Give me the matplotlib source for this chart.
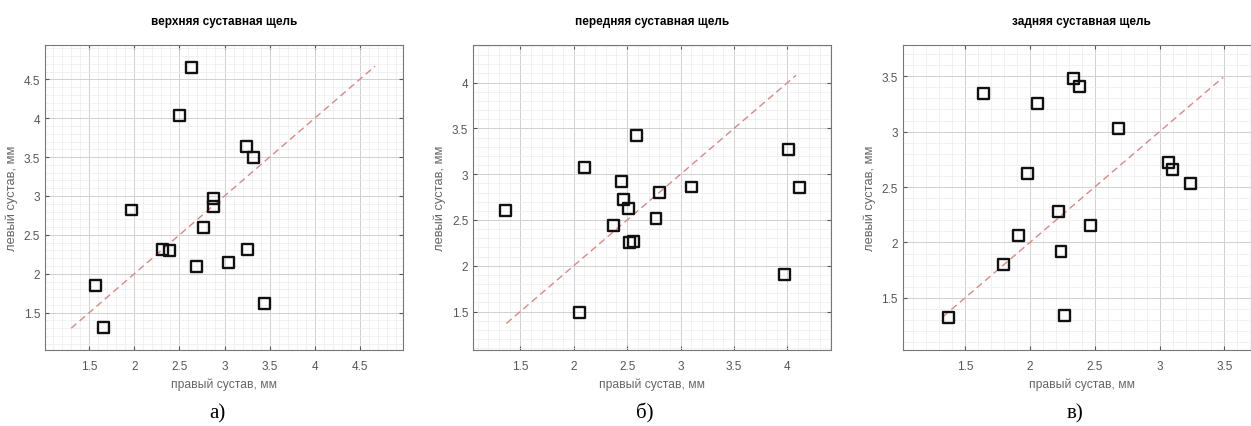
import matplotlib
matplotlib.use('Agg')
import matplotlib.pyplot as plt
import numpy as np
from matplotlib.ticker import MultipleLocator

plt.rcParams['font.family'] = ['Liberation Sans', 'DejaVu Sans']

# верхняя суставная щель
a_right = [2.63, 2.50, 3.24, 3.32, 2.88, 2.88, 1.97, 2.77, 2.31, 2.39, 3.26, 2.69, 3.04, 1.57, 3.44, 1.66]
a_left = [4.65, 4.04, 3.64, 3.49, 2.97, 2.86, 2.82, 2.59, 2.31, 2.30, 2.31, 2.09, 2.15, 1.85, 1.62, 1.31]

# передняя суставная щель
b_right = [2.59, 2.10, 2.45, 2.47, 2.51, 2.80, 3.10, 4.01, 4.11, 1.36, 2.77, 2.37, 2.52, 2.56, 3.97, 2.05]
b_left = [3.42, 3.07, 2.92, 2.72, 2.63, 2.80, 2.86, 3.27, 2.85, 2.60, 2.52, 2.44, 2.25, 2.26, 1.90, 1.49]

# задняя суставная щель
c_right = [2.34, 2.38, 1.64, 2.06, 2.68, 3.07, 3.10, 3.24, 1.98, 2.22, 2.47, 1.91, 2.24, 1.80, 1.37, 2.27]
c_left = [3.48, 3.41, 3.34, 3.25, 3.03, 2.72, 2.66, 2.53, 2.62, 2.28, 2.15, 2.06, 1.92, 1.80, 1.32, 1.34]

titles = ['верхняя суставная щель', 'передняя суставная щель', 'задняя суставная щель']
captions = ['а)', 'б)', 'в)']
diag = [(1.30, 4.67), (1.37, 4.08), (1.33, 3.49)]
xlims = [(1.01, 4.98), (1.06, 4.41), (1.02, 3.78)]
ylims = [(1.02, 4.94), (1.08, 4.41), (1.03, 3.78)]
lefts = [0.036, 0.3783, 0.7216]

data = [(a_right, a_left), (b_right, b_left), (c_right, c_left)]

fig = plt.figure(figsize=(12.51, 4.27), dpi=100)
for i, (xr, yl) in enumerate(data):
    ax = fig.add_axes([lefts[i], 0.178, 0.2862, 0.714])
    ax.plot(diag[i], diag[i], linestyle='--', color='#e08585', linewidth=1.0, dashes=(5, 3), zorder=2)
    ax.scatter(xr, yl, marker='s', s=62, facecolors='none', edgecolors='#111111', linewidths=1.7, zorder=3)
    ax.set_xlim(*xlims[i])
    ax.set_ylim(*ylims[i])
    ax.xaxis.set_major_locator(MultipleLocator(0.5))
    ax.yaxis.set_major_locator(MultipleLocator(0.5))
    ax.xaxis.set_minor_locator(MultipleLocator(0.1))
    ax.yaxis.set_minor_locator(MultipleLocator(0.1))
    ax.grid(True, which='major', color='#d0d0d0', linewidth=0.7)
    ax.grid(True, which='minor', color='#ececec', linewidth=0.5)
    ax.set_axisbelow(True)
    ax.tick_params(which='major', direction='in', length=3, labelsize=8.5,
                   colors='#555555', top=True, right=True)
    ax.tick_params(axis='x', which='major', pad=7)
    ax.tick_params(which='minor', length=0)
    for s in ax.spines.values():
        s.set_color('#777777')
        s.set_linewidth(0.8)
    ax.xaxis.set_major_formatter(plt.FuncFormatter(lambda v, p: f'{v:g}'))
    ax.yaxis.set_major_formatter(plt.FuncFormatter(lambda v, p: f'{v:g}'))
    ax.set_title(titles[i], fontsize=8.5, fontweight='bold', pad=15)
    ax.set_xlabel('правый сустав, мм', fontsize=8.7, color='#666666', labelpad=4)
    ax.set_ylabel('левый сустав, мм', fontsize=9.3, color='#666666', labelpad=4)
    ax.text(0.48, -0.205, captions[i], transform=ax.transAxes, ha='center', va='center',
            fontsize=15, family=['Liberation Serif', 'DejaVu Serif'])

fig.savefig('out.png', dpi=100, facecolor='white')
